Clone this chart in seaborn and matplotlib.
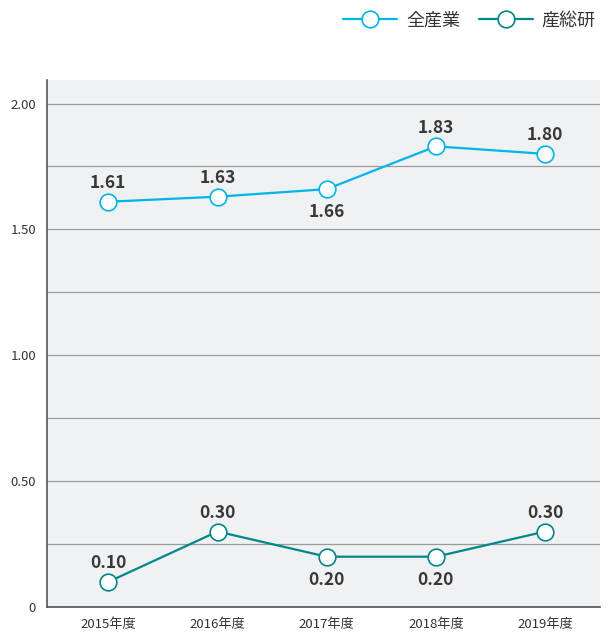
import seaborn as sns
import matplotlib.pyplot as plt
import pandas as pd

years = ["2015年度", "2016年度", "2017年度", "2018年度", "2019年度"]
all_industry = [1.61, 1.63, 1.66, 1.83, 1.80]
aist = [0.10, 0.30, 0.20, 0.20, 0.30]
# label above (True) or below (False) the marker
all_above = [True, True, False, True, True]
aist_above = [True, True, False, False, True]

sns.set_style("white")
plt.rcParams['font.family'] = ['Noto Sans CJK JP', 'DejaVu Sans']

df = pd.DataFrame({"x": range(len(years)), "全産業": all_industry, "産総研": aist})

fig, ax = plt.subplots(figsize=(6.12, 6.37), dpi=100)
fig.subplots_adjust(left=0.077, right=0.98, top=0.875, bottom=0.047)
ax.set_facecolor("#F0F1F3")

colors = {"全産業": "#00B5E8", "産総研": "#00878A"}
for name in ["全産業", "産総研"]:
    sns.lineplot(data=df, x="x", y=name, ax=ax, color=colors[name], linewidth=1.6,
                 marker="o", markersize=12, markerfacecolor="white",
                 markeredgecolor=colors[name], markeredgewidth=1.2, label=name, zorder=3)

for vals, above in [(all_industry, all_above), (aist, aist_above)]:
    for i, (v, a) in enumerate(zip(vals, above)):
        ax.annotate(f"{v:.2f}", (i, v), xytext=(0, 7 if a else -10), textcoords="offset points",
                    ha="center", va="bottom" if a else "top", fontsize=12.5,
                    fontweight="bold", color="#383838")

ax.set_xlim(-0.56, 4.5)
ax.set_ylim(0, 2.095)
ax.set_yticks([0, 0.25, 0.5, 0.75, 1.0, 1.25, 1.5, 1.75, 2.0])
ax.set_yticklabels(["0", "", "0.50", "", "1.00", "", "1.50", "", "2.00"])
ax.yaxis.grid(True, color="#9A9A9A", linewidth=0.9)
ax.set_axisbelow(True)
ax.set_xticks(range(len(years)))
ax.set_xticklabels(years)
ax.set_xticks([0.46, 1.46, 2.46, 3.5], minor=True)
ax.tick_params(axis="x", which="major", length=0, labelsize=9.5, colors="#333333", pad=8)
ax.tick_params(axis="x", which="minor", direction="in", length=9, width=0.8, color="#888888")
ax.tick_params(axis="y", length=0, labelsize=9.5, colors="#333333", pad=8)
ax.set_xlabel("")
ax.set_ylabel("")
for s in ["top", "right"]:
    ax.spines[s].set_visible(False)
for s in ["left", "bottom"]:
    ax.spines[s].set_color("#555555")
    ax.spines[s].set_linewidth(1.2)

ax.get_legend().remove()
h, l = ax.get_legend_handles_labels()
fig.legend(h, l, loc="upper right", bbox_to_anchor=(1.0, 1.008), ncol=2, frameon=False,
           fontsize=13, handlelength=3.0, columnspacing=1.0, handletextpad=0.5, labelcolor="#333333")

plt.savefig("out.png")
